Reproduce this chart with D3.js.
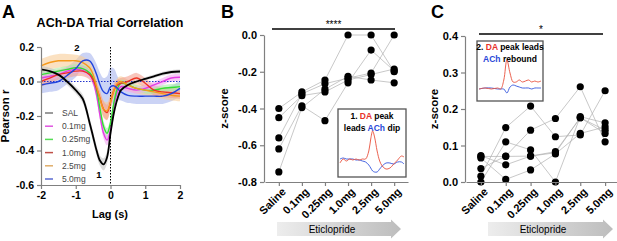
<!DOCTYPE html>
<html>
<head>
<meta charset="utf-8">
<script src="https://cdn.jsdelivr.net/npm/d3@7"></script>
<style>
  body { margin: 0; background: #fff; }
  svg { font-family: 'Liberation Sans', Arial, sans-serif; }
  .axis path, .axis line { stroke: #808080; stroke-width: 1.2; }
  .axis text { font-weight: bold; font-size: 10.5px; fill: #000; font-family: 'Liberation Sans', Arial, sans-serif; }
</style>
</head>
<body>
<svg id="fig" width="617" height="241"></svg>
<script>
// ---- panel A: cross-correlation curves ----
const lags = [-2, -1.75, -1.5, -1.25, -1, -0.8, -0.6, -0.5, -0.4, -0.3, -0.2, -0.1, 0, 0.1, 0.2, 0.3, 0.5, 0.75, 1, 1.25, 1.5, 1.75, 2];
const salR   = [0.07, 0.06, 0.04, 0.0, -0.05, -0.1, -0.24, -0.32, -0.40, -0.46, -0.48, -0.44, -0.30, -0.18, -0.10, -0.05, -0.02, 0.0, 0.015, 0.03, 0.045, 0.055, 0.058];
const salSem = [0.02, 0.02, 0.02, 0.02, 0.02, 0.025, 0.03, 0.03, 0.03, 0.03, 0.035, 0.035, 0.03, 0.02, 0.015, 0.012, 0.01, 0.01, 0.01, 0.01, 0.012, 0.012, 0.012];
const r01    = [0.02, 0.03, 0.04, 0.06, 0.07, 0.065, 0.04, 0.0, -0.08, -0.2, -0.3, -0.34, -0.28, -0.14, -0.06, -0.03, -0.04, -0.05, -0.04, -0.02, 0.0, 0.02, 0.025];
const sem01  = [0.02, 0.02, 0.02, 0.02, 0.02, 0.02, 0.02, 0.02, 0.025, 0.03, 0.03, 0.03, 0.03, 0.025, 0.02, 0.02, 0.02, 0.02, 0.02, 0.02, 0.02, 0.02, 0.02];
const r025   = [0.04, 0.05, 0.06, 0.07, 0.08, 0.075, 0.05, 0.02, -0.05, -0.16, -0.26, -0.30, -0.24, -0.12, -0.04, -0.01, -0.02, -0.04, -0.05, -0.05, -0.04, -0.035, -0.03];
const sem025 = [0.02, 0.02, 0.02, 0.02, 0.02, 0.02, 0.02, 0.02, 0.025, 0.03, 0.03, 0.03, 0.03, 0.025, 0.02, 0.02, 0.02, 0.02, 0.02, 0.02, 0.02, 0.02, 0.02];
const r10    = [0.0, 0.02, 0.04, 0.05, 0.06, 0.06, 0.04, 0.01, -0.04, -0.1, -0.16, -0.18, -0.12, -0.05, -0.02, -0.01, 0.0, 0.02, -0.01, -0.05, -0.06, -0.065, -0.07];
const sem10  = [0.03, 0.03, 0.03, 0.03, 0.03, 0.03, 0.03, 0.03, 0.035, 0.04, 0.045, 0.045, 0.04, 0.035, 0.03, 0.03, 0.03, 0.03, 0.03, 0.03, 0.03, 0.03, 0.03];
const r25    = [0.09, 0.11, 0.12, 0.12, 0.12, 0.11, 0.08, 0.04, -0.03, -0.1, -0.16, -0.17, -0.12, -0.05, -0.01, 0.0, -0.02, -0.04, -0.05, -0.06, -0.07, -0.08, -0.085];
const sem25  = [0.04, 0.04, 0.04, 0.04, 0.035, 0.035, 0.035, 0.035, 0.04, 0.045, 0.05, 0.05, 0.045, 0.035, 0.03, 0.03, 0.03, 0.03, 0.03, 0.03, 0.03, 0.03, 0.03];
const r50    = [-0.02, -0.01, 0.0, 0.035, 0.075, 0.12, 0.12, 0.09, 0.04, -0.02, -0.06, -0.07, -0.03, -0.025, -0.04, -0.06, -0.08, -0.085, -0.085, -0.085, -0.085, -0.07, -0.04];
const sem50  = [0.05, 0.05, 0.05, 0.05, 0.05, 0.045, 0.045, 0.05, 0.06, 0.07, 0.08, 0.1, 0.11, 0.1, 0.07, 0.05, 0.045, 0.045, 0.045, 0.045, 0.045, 0.045, 0.045];
const legendLabels = ['SAL', '0.1mg', '0.25mg', '1.0mg', '2.5mg', '5.0mg'];

// ---- panels B and C: per-animal z-scores ----
const doses = ['Saline', '0.1mg', '0.25mg', '1.0mg', '2.5mg', '5.0mg'];
const dipScores = [
  [-0.40, -0.31, -0.245, 0.0, 0.0, -0.20],
  [-0.45, -0.33, -0.31, -0.245, -0.215, -0.185],
  [-0.56, -0.32, -0.265, -0.235, -0.207, 0.0],
  [-0.62, -0.385, -0.466, -0.26, -0.082, -0.195],
  [-0.745, -0.395, -0.295, -0.225, -0.245, -0.26]
];
const reboundScores = [
  [0.072, 0.047, 0.071, 0.083, 0.176, 0.142],
  [0.066, 0.007, 0.033, 0.077, 0.133, 0.151],
  [0.016, 0.149, 0.208, 0.124, 0.129, 0.25],
  [0.0, 0.11, 0.088, 0.0, 0.179, 0.162],
  [0.037, 0.071, 0.142, 0.174, 0.261, 0.11],
  [0.07, 0.07, 0.071, 0.08, 0.176, 0.133]
];

// ---- inset example traces ----
const insetTime1 = [0, 0.05, 0.1, 0.15, 0.2, 0.25, 0.3, 0.35, 0.4, 0.45, 0.48, 0.51, 0.54, 0.58, 0.62, 0.66, 0.72, 0.78, 0.84, 0.9, 0.96, 1];
const insetDA1   = [-0.4, 0.0, -0.2, 0.0, -0.1, 0.0, -0.1, 0.0, 0.0, 0.8, 2.0, 2.8, 2.2, 0.8, -0.2, -0.7, -1.0, -0.9, -0.5, -0.1, 0.3, 0.2];
const insetACh1  = [0.0, 0.1, 0.0, 0.0, 0.0, -0.1, -0.1, -0.2, -0.3, -0.6, -0.9, -1.2, -1.3, -1.3, -1.0, -0.7, -0.4, -0.4, -0.5, -0.3, -0.3, -0.5];
const insetTime2 = [0, 0.1, 0.2, 0.3, 0.35, 0.4, 0.45, 0.5, 0.55, 0.6, 0.65, 0.7, 0.75, 0.8, 0.85, 0.9, 0.95, 1];
const insetDA2   = [0.0, 0.1, 0.0, 0.1, 0.0, 0.9, 2.9, 1.6, 0.7, 0.7, 0.9, 0.7, 0.8, 0.9, 0.7, 0.8, 0.7, 0.8];
const insetACh2  = [0.0, 0.1, 0.1, 0.0, 0.0, 0.0, -0.4, 0.2, 0.4, 0.3, 0.2, 0.1, 0.1, 0.1, 0.0, 0.1, 0.1, 0.1];

const svg = d3.select('#fig');

const defs = svg.append('defs');
const grad = defs.append('linearGradient').attr('id', 'arrowGrad');
grad.append('stop').attr('offset', '0%').attr('stop-color', '#ededed');
grad.append('stop').attr('offset', '100%').attr('stop-color', '#bdbdbd');

function panelLetter(x, y, t) {
  svg.append('text').attr('x', x).attr('y', y)
    .style('font-size', '18px').style('font-weight', 'bold').text(t);
}

function yLabel(x, y, t) {
  svg.append('text')
    .attr('transform', `translate(${x},${y}) rotate(-90)`)
    .style('text-anchor', 'middle').style('font-size', '11.5px').style('font-weight', 'bold')
    .text(t);
}

// ================= Panel A =================
function drawA() {
  const x = d3.scaleLinear().domain([-2, 2]).range([41, 180]);
  const y = d3.scaleLinear().domain([-0.6, 0.2]).range([185, 47]);
  const g = svg.append('g');

  panelLetter(2, 18, 'A');
  g.append('text').attr('x', 110).attr('y', 27).style('text-anchor', 'middle')
    .style('font-size', '12.5px').style('font-weight', 'bold').text('ACh-DA Trial Correlation');

  const series = [
    { r: salR, sem: salSem, line: '#000000', band: '#c4c4c4', key: '#7a7a7a' },
    { r: r01, sem: sem01, line: '#e53de5', band: '#f2a8f2', key: '#e055e0' },
    { r: r025, sem: sem025, line: '#33dd33', band: '#a8eea8', key: '#55dd55' },
    { r: r10, sem: sem10, line: '#ee3322', band: '#f4a090', key: '#c05048' },
    { r: r25, sem: sem25, line: '#f59a1c', band: '#f8cd98', key: '#e0ad6a' },
    { r: r50, sem: sem50, line: '#2244dd', band: '#a9b6ef', key: '#5a6ad0' }
  ];

  const area = s => d3.area()
    .x((d, i) => x(lags[i]))
    .y0((d, i) => y(s.r[i] - s.sem[i]))
    .y1((d, i) => y(s.r[i] + s.sem[i]))
    .curve(d3.curveCatmullRom);
  const line = s => d3.line()
    .x((d, i) => x(lags[i]))
    .y((d, i) => y(s.r[i]))
    .curve(d3.curveCatmullRom);

  [5, 4, 3, 2, 1, 0].forEach(k => {
    const s = series[k];
    g.append('path').datum(lags).attr('d', area(s))
      .attr('fill', s.band).attr('opacity', 0.6);
  });

  // zero lines
  g.append('line').attr('x1', x(-2)).attr('x2', x(2)).attr('y1', y(0)).attr('y2', y(0))
    .attr('stroke', '#2233cc').attr('stroke-width', 1).attr('stroke-dasharray', '1.5,1.5');
  g.append('line').attr('x1', x(0)).attr('x2', x(0)).attr('y1', y(0.2)).attr('y2', y(-0.6))
    .attr('stroke', '#000').attr('stroke-width', 1).attr('stroke-dasharray', '1.5,1.5');

  [1, 2, 3, 4, 5, 0].forEach(k => {
    const s = series[k];
    g.append('path').datum(lags).attr('d', line(s))
      .attr('fill', 'none').attr('stroke', s.line).attr('stroke-width', k === 0 ? 1.8 : 1.4);
  });

  g.append('g').attr('class', 'axis').attr('transform', `translate(0,${y(-0.6)})`)
    .call(d3.axisBottom(x).tickValues([-2, -1, 0, 1, 2]).tickFormat(d => String(d)).tickSize(4).tickSizeOuter(0));
  g.append('g').attr('class', 'axis').attr('transform', `translate(${x(-2)},0)`)
    .call(d3.axisLeft(y).tickValues([0.2, 0, -0.2, -0.4, -0.6]).tickFormat(d => d.toFixed(1)).tickSize(4).tickSizeOuter(0));

  g.append('text').attr('x', 110).attr('y', 218).style('text-anchor', 'middle')
    .style('font-size', '11px').style('font-weight', 'bold').text('Lag (s)');
  yLabel(9, 116, 'Pearson r');

  // legend
  legendLabels.forEach((lab, i) => {
    const ly = 113 + i * 13.2;
    g.append('line').attr('x1', 45).attr('x2', 53).attr('y1', ly).attr('y2', ly)
      .attr('stroke', series[i].key).attr('stroke-width', 1.5);
    g.append('text').attr('x', 62).attr('y', ly + 3).style('font-size', '8.5px').style('fill', '#444').text(lab);
  });

  g.append('text').attr('x', 77).attr('y', 51).style('text-anchor', 'middle')
    .style('font-size', '9.5px').style('font-weight', 'bold').text('2');
  g.append('text').attr('x', 99).attr('y', 178).style('text-anchor', 'middle')
    .style('font-size', '9.5px').style('font-weight', 'bold').text('1');
}

// ================= Panels B and C =================
function drawDots(opts) {
  const { data, x0, xr, yDomain, yRange, ticks, letterX, labelX, sig, inset, arrow } = opts;
  const x = d3.scalePoint().domain(doses).range(xr).padding(0.6);
  const y = d3.scaleLinear().domain(yDomain).range(yRange);
  const g = svg.append('g');

  panelLetter(letterX, 18, opts.letter);

  // significance bar
  g.append('line').attr('x1', sig.x1).attr('x2', sig.x2).attr('y1', sig.y).attr('y2', sig.y)
    .attr('stroke', '#000').attr('stroke-width', 1.3);
  g.append('text').attr('x', (sig.x1 + sig.x2) / 2).attr('y', sig.y - 1.5).style('text-anchor', 'middle')
    .style('font-size', '10px').text(sig.text);

  const ln = d3.line().x((d, i) => x(doses[i])).y(d => y(d));
  data.forEach(a => {
    g.append('path').datum(a).attr('d', ln)
      .attr('fill', 'none').attr('stroke', '#b0b0b0').attr('stroke-width', 0.7);
  });
  data.forEach(a => {
    g.selectAll(null).data(a).enter().append('circle')
      .attr('cx', (d, i) => x(doses[i])).attr('cy', d => y(d)).attr('r', 3.6).attr('fill', '#000');
  });

  g.append('g').attr('class', 'axis').attr('transform', `translate(0,${yRange[0]})`)
    .call(d3.axisBottom(x).tickSize(4).tickSizeOuter(0))
    .selectAll('text')
    .attr('transform', 'rotate(-45)')
    .style('text-anchor', 'end').style('font-size', '11px')
    .attr('dx', '-0.2em').attr('dy', '0.5em');
  g.append('g').attr('class', 'axis').attr('transform', `translate(${x0},0)`)
    .call(d3.axisLeft(y).tickValues(ticks).tickFormat(d => d.toFixed(1)).tickSize(4).tickSizeOuter(0))
    .selectAll('text').style('font-size', '11px');

  yLabel(labelX, (yRange[0] + yRange[1]) / 2, 'z-score');

  // inset box
  const ib = g.append('g');
  ib.append('rect').attr('x', inset.x).attr('y', inset.y).attr('width', inset.w).attr('height', inset.h)
    .attr('fill', '#fff').attr('stroke', '#555').attr('stroke-width', 1.3);
  inset.lines.forEach((parts, li) => {
    const t = ib.append('text').attr('x', inset.x + inset.w / 2).attr('y', inset.y + inset.textY + li * 11.5)
      .style('text-anchor', 'middle').style('font-size', '8.5px').style('font-weight', 'bold');
    parts.forEach(p => t.append('tspan').attr('fill', p[1]).text(p[0]));
  });
  const ix = d3.scaleLinear().domain([0, 1]).range([inset.x + 2, inset.x + inset.w - 2]);
  const iy = d3.scaleLinear().domain([0, 1]).range([inset.base, inset.base - inset.unit]);
  const il = d3.line().x((d, i) => ix(inset.time[i])).y(d => iy(d)).curve(d3.curveCatmullRom);
  ib.append('path').datum(inset.ach).attr('d', il).attr('fill', 'none').attr('stroke', '#3355dd').attr('stroke-width', 0.9);
  ib.append('path').datum(inset.da).attr('d', il).attr('fill', 'none').attr('stroke', '#e8503c').attr('stroke-width', 0.9);

  // arrow
  const a = arrow;
  const pts = [[a.x1, 222], [a.x2 - 10, 222], [a.x2 - 10, 219.5], [a.x2, 229], [a.x2 - 10, 238.5], [a.x2 - 10, 236], [a.x1, 236]];
  g.append('path').attr('d', 'M' + pts.join('L') + 'Z').attr('fill', 'url(#arrowGrad)');
  g.append('text').attr('x', a.x1 + 55).attr('y', 232.5).style('text-anchor', 'middle')
    .style('font-size', '10px').text('Eticlopride');
}

drawA();

drawDots({
  letter: 'B', letterX: 221, labelX: 228,
  data: dipScores, x0: 264, xr: [265, 408],
  yDomain: [-0.8, 0], yRange: [182, 35], ticks: [0, -0.2, -0.4, -0.6, -0.8],
  sig: { x1: 272, x2: 395, y: 29, text: '****' },
  inset: {
    x: 338, y: 109, w: 68, h: 68, textY: 10, base: 159, unit: 10,
    lines: [[['1. ', '#000'], ['DA', '#e8312a'], [' peak', '#000']], [['leads ', '#000'], ['ACh', '#2a48d8'], [' dip', '#000']]],
    time: insetTime1, da: insetDA1, ach: insetACh1
  },
  arrow: { x1: 277, x2: 401 }
});

drawDots({
  letter: 'C', letterX: 431, labelX: 438,
  data: reboundScores, x0: 465, xr: [466, 620],
  yDomain: [0, 0.4], yRange: [182, 36], ticks: [0, 0.1, 0.2, 0.3, 0.4],
  sig: { x1: 479, x2: 603, y: 34, text: '*' },
  inset: {
    x: 477, y: 41, w: 66, h: 60, textY: 9, base: 89, unit: 10,
    lines: [[['2. ', '#000'], ['DA', '#e8312a'], [' peak leads', '#000']], [['ACh', '#2a48d8'], [' rebound', '#000']]],
    time: insetTime2, da: insetDA2, ach: insetACh2
  },
  arrow: { x1: 488, x2: 613 }
});
</script>
</body>
</html>
